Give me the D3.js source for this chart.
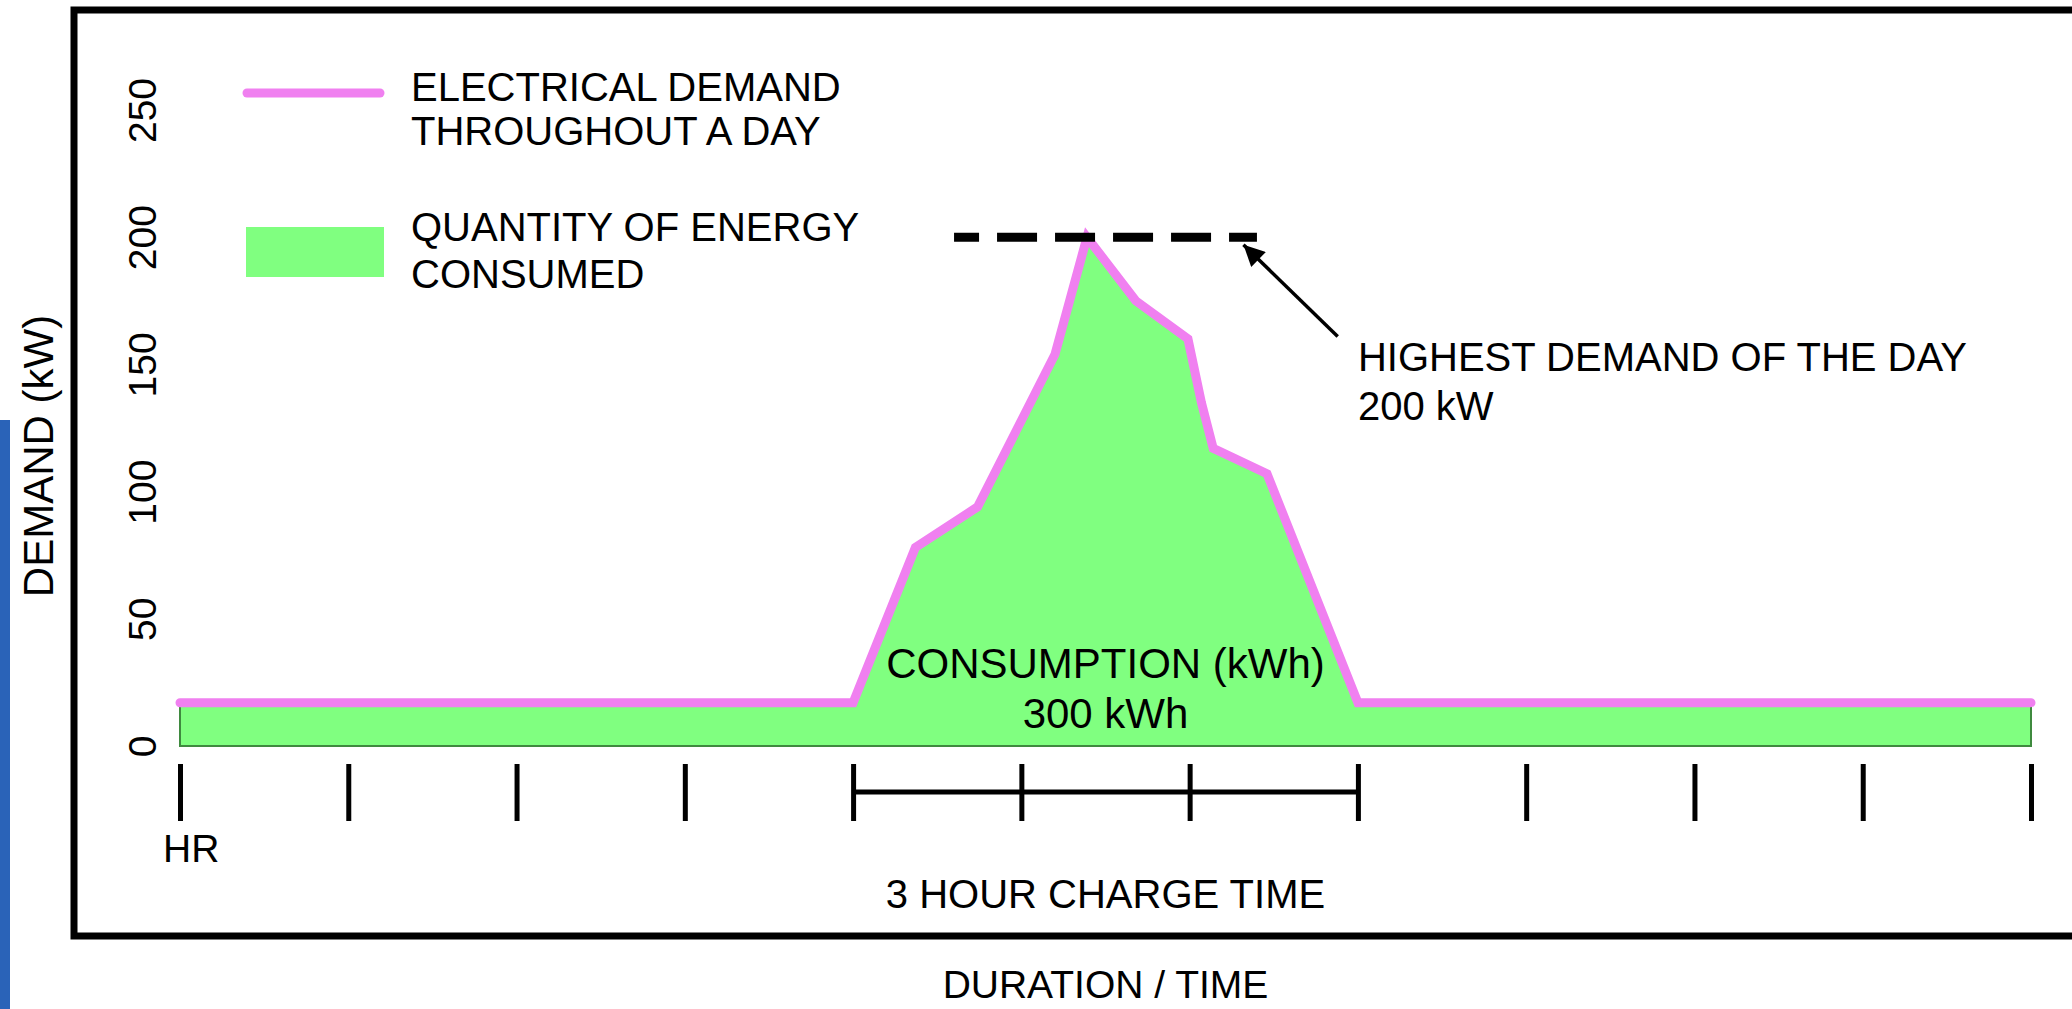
<!DOCTYPE html>
<html>
<head>
<meta charset="utf-8">
<script src="https://cdn.jsdelivr.net/npm/d3@7"></script>
<style>
  body { margin: 0; background: #fff; }
  text { font-family: "Liberation Sans", Arial, sans-serif; fill: #000; }
</style>
</head>
<body>
<div id="chart"></div>
<script>
/* daily electrical demand with a 3 hour charge peak */

// demand profile (hour of the day, kW)
const hours  = [0, 4, 4.37, 4.74, 5.2, 5.39, 5.68, 5.99, 6.07, 6.14, 6.46, 7, 11];
const demand = [17, 17, 78, 94, 154, 200, 175, 160, 135, 117, 107, 17, 17];

const yTicks = [0, 50, 100, 150, 200, 250];
const hourTicks = [0, 1, 2, 3, 4, 5, 6, 7, 8, 9, 10, 11];

const chargeStart = 4, chargeEnd = 7;   // the 3 hour charge window
const peakDemand = 200;
const peakLine = [4.6, 6.4];            // extent of dashed peak marker (hours)
const arrowTip = [6.32, 197], arrowTail = [6.88, 161];

const legendLabels = [["ELECTRICAL DEMAND", "THROUGHOUT A DAY"], ["QUANTITY OF ENERGY", "CONSUMED"]];

const width = 2072, height = 1009;

const svg = d3.select("#chart")
    .append("svg")
    .attr("width", width)
    .attr("height", height);

const x = d3.scaleLinear() // hours -> px
    .domain([0, 11])
    .range([180, 2031]);

const y = d3.scaleLinear() // kW -> px
    .domain([0, 250])
    .range([746, 110]);

const data = hours.map((h, i) => ({h: h, kw: demand[i]}));

// blue strip on the far left
svg.append("rect")
    .attr("x", 0).attr("y", 420)
    .attr("width", 10).attr("height", height - 420)
    .attr("fill", "#2a63b8");

// frame (right side runs off the picture)
svg.append("rect")
    .attr("x", 74).attr("y", 10)
    .attr("width", 2100).attr("height", 926)
    .attr("fill", "none")
    .attr("stroke", "#000")
    .attr("stroke-width", 7);

// energy area
svg.append("path")
    .datum(data)
    .attr("fill", "#80ff80")
    .attr("stroke", "#3f8a3f")
    .attr("stroke-width", 2)
    .attr("d", d3.area().x(d => x(d.h)).y0(y(0)).y1(d => y(d.kw)));

// demand line
svg.append("path")
    .datum(data)
    .attr("fill", "none")
    .attr("stroke", "#f080f0")
    .attr("stroke-width", 9)
    .attr("stroke-linecap", "round")
    .attr("stroke-linejoin", "miter")
    .attr("d", d3.line().x(d => x(d.h)).y(d => y(d.kw)));

// dashed peak marker
svg.append("line")
    .attr("x1", x(peakLine[0])).attr("x2", x(peakLine[1]))
    .attr("y1", y(peakDemand)).attr("y2", y(peakDemand))
    .attr("stroke", "#000")
    .attr("stroke-width", 9)
    .attr("stroke-dasharray", "40,18")
    .attr("stroke-dashoffset", 15);

// arrow to the peak
svg.append("defs").append("marker")
    .attr("id", "head")
    .attr("viewBox", "0 0 10 10")
    .attr("refX", 10).attr("refY", 5)
    .attr("markerWidth", 12).attr("markerHeight", 6)
    .attr("markerUnits", "strokeWidth")
    .attr("orient", "auto")
    .append("path")
    .attr("d", "M0,0L10,5L0,10z")
    .attr("fill", "#000");

svg.append("line")
    .attr("x1", x(arrowTail[0])).attr("y1", y(arrowTail[1]))
    .attr("x2", x(arrowTip[0])).attr("y2", y(arrowTip[1]))
    .attr("stroke", "#000")
    .attr("stroke-width", 3.5)
    .attr("marker-end", "url(#head)");

// y axis: rotated labels only
const yAxis = svg.append("g")
    .attr("transform", "translate(156,0)")
    .call(d3.axisLeft(y).tickValues(yTicks).tickSize(0).tickPadding(0));
yAxis.select(".domain").remove();
yAxis.selectAll("text")
    .attr("x", 0).attr("dy", 0)
    .attr("text-anchor", "middle")
    .attr("transform", "rotate(-90)")
    .style("font-size", "39px")
    .style("font-family", "'Liberation Sans', Arial, sans-serif");

// hour ticks under the chart
const xAxis = svg.append("g")
    .attr("transform", "translate(0,764)")
    .call(d3.axisBottom(x).tickValues(hourTicks).tickSize(57).tickFormat(""));
xAxis.select(".domain").remove();
xAxis.selectAll("line")
    .attr("stroke", "#000")
    .attr("stroke-width", 5);

// charge time bracket
svg.append("line")
    .attr("x1", x(chargeStart)).attr("x2", x(chargeEnd))
    .attr("y1", 792).attr("y2", 792)
    .attr("stroke", "#000")
    .attr("stroke-width", 5);

// legend
svg.append("line")
    .attr("x1", 247).attr("x2", 380)
    .attr("y1", 93).attr("y2", 93)
    .attr("stroke", "#f080f0")
    .attr("stroke-width", 9)
    .attr("stroke-linecap", "round");

svg.append("rect")
    .attr("x", 246).attr("y", 227)
    .attr("width", 138).attr("height", 50)
    .attr("fill", "#80ff80");

const legendBase = [[101, 145], [241, 288]];
legendLabels.forEach((lines, i) => {
    lines.forEach((t, j) => {
        svg.append("text")
            .attr("x", 411).attr("y", legendBase[i][j])
            .style("font-size", "40px")
            .text(t);
    });
});

// annotations
const label = (txt, px, py, size, anchor) => svg.append("text")
    .attr("x", px).attr("y", py)
    .attr("text-anchor", anchor || "start")
    .style("font-size", size + "px")
    .text(txt);

label("HIGHEST DEMAND OF THE DAY", x(chargeEnd), 371, 40);
label(peakDemand + " kW", x(chargeEnd), 420, 40);
label("CONSUMPTION (kWh)", x(5.5), 678, 42, "middle");
label("300 kWh", x(5.5), 728, 42, "middle");
label("HR", 163, 862, 39);
label("3 HOUR CHARGE TIME", x(5.5), 908, 40, "middle");
label("DURATION / TIME", x(5.5), 998, 39, "middle");

svg.append("text")
    .attr("transform", "translate(53,456) rotate(-90)")
    .attr("text-anchor", "middle")
    .style("font-size", "42px")
    .text("DEMAND (kW)");
</script>
</body>
</html>
